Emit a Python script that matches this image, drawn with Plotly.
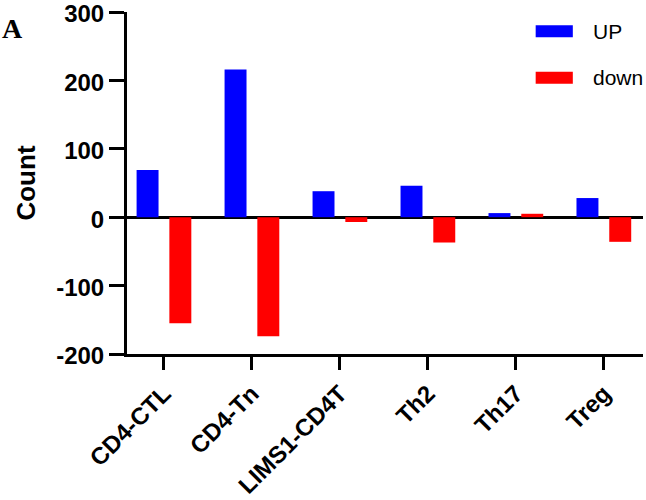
import plotly.graph_objects as go

BLUE = "#0000FF"
RED = "#FF0000"
BLACK = "#000000"
FONT = "Liberation Sans, Arial, sans-serif"

cell_types = ["CD4-CTL", "CD4-Tn", "LIMS1-CD4T", "Th2", "Th17", "Treg"]
up_counts = [69, 216, 38, 46, 6, 28]
down_counts = [-155, -174, -7, -37, 5, -36]
y_ticks = [-200, -100, 0, 100, 200, 300]
y_tick_text = ["-200", "-100", "0", "100", "200", "300"]

fig = go.Figure()
fig.add_trace(go.Bar(x=cell_types, y=up_counts, name="UP",
                     marker=dict(color=BLUE, line=dict(width=0)), showlegend=False))
fig.add_trace(go.Bar(x=cell_types, y=down_counts, name="down",
                     marker=dict(color=RED, line=dict(width=0)), showlegend=False))

# hand-drawn legend with wide swatches, like the original figure
for i, (name, col) in enumerate([("UP", BLUE), ("down", RED)]):
    y0 = 0.961 - i * 0.136
    fig.add_shape(type="rect", xref="paper", yref="paper",
                  x0=0.792, x1=0.864, y0=y0 - 0.035, y1=y0,
                  fillcolor=col, line=dict(width=0))
    fig.add_annotation(x=0.900, y=y0 - 0.0175, xref="paper", yref="paper",
                       text=name, showarrow=False, xanchor="left", yanchor="middle",
                       font=dict(family=FONT, size=21, color=BLACK))

fig.add_annotation(x=-0.222, y=0.952, xref="paper", yref="paper", text="A",
                   showarrow=False, xanchor="center", yanchor="middle",
                   font=dict(family="Liberation Serif, Times New Roman, serif",
                             size=28, color=BLACK, weight="bold"))

fig.update_layout(
    width=646, height=500,
    margin=dict(l=127, r=3, t=12, b=146),
    paper_bgcolor="white", plot_bgcolor="white",
    barmode="group", bargap=0.255, bargroupgap=0.33,
    font=dict(family=FONT, color=BLACK),
    xaxis=dict(range=[-0.42, 5.445], showgrid=False, zeroline=False, automargin=False,
               showline=True, linecolor=BLACK, linewidth=3,
               ticks="outside", ticklen=13, tickwidth=3, tickcolor=BLACK,
               tickangle=-45, ticklabeloverflow="allow",
               tickfont=dict(family=FONT, size=24, color=BLACK, weight="bold")),
    yaxis=dict(range=[-200, 300], tickvals=y_ticks, ticktext=y_tick_text,
               showgrid=False, zeroline=True, zerolinecolor=BLACK, zerolinewidth=3,
               automargin=False, ticklabeloverflow="allow", ticklabelshift=2,
               showline=True, linecolor=BLACK, linewidth=3,
               ticks="outside", ticklen=15, tickwidth=3, tickcolor=BLACK,
               tickfont=dict(family=FONT, size=24, color=BLACK, weight="bold"),
               title=dict(text="Count", standoff=14,
                          font=dict(family=FONT, size=26, color=BLACK, weight="bold"))),
)

# drop the default page margin so the figure sits at the window's corner
fig.write_html("out.html", config={"displayModeBar": False},
               post_script="document.body.style.margin='0';document.body.style.overflow='hidden';")
